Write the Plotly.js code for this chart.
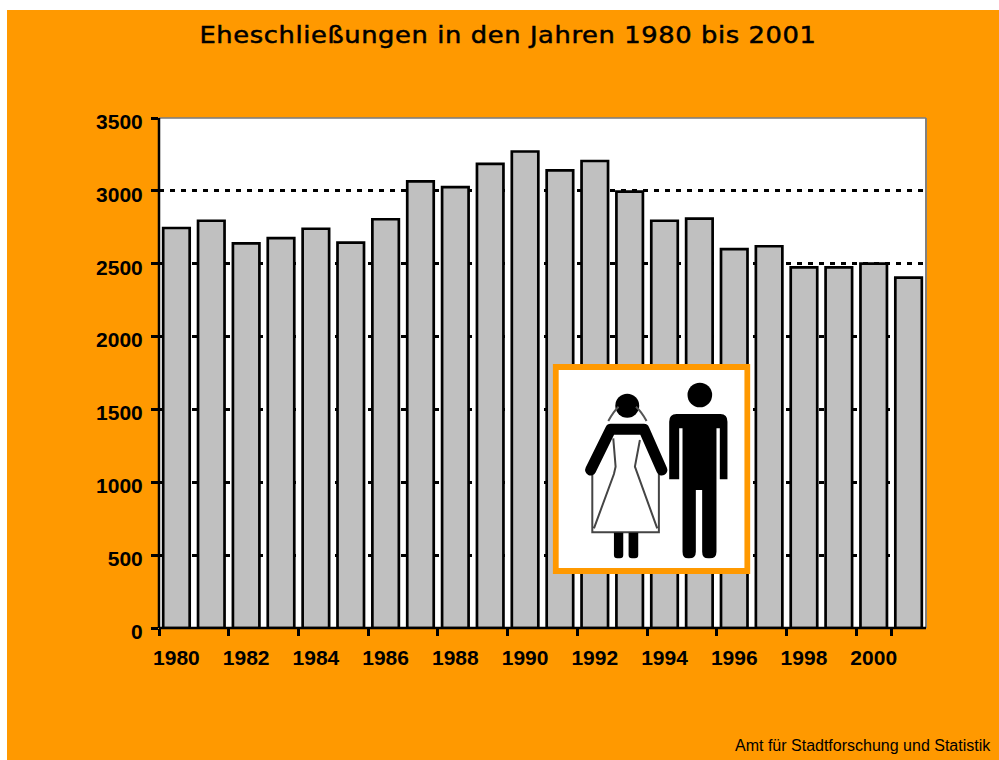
<!DOCTYPE html>
<html><head><meta charset="utf-8">
<script src="https://cdn.plot.ly/plotly-3.0.1.min.js"></script>
<style>html,body{margin:0;padding:0;background:#fff}#c{position:absolute;left:7px;top:10px;width:992px;height:750px}
.gtitle{letter-spacing:.55px;stroke:#000;stroke-width:.5px;transform-box:fill-box;transform-origin:center;scale:1.12 1}
.ytick text{translate:0 3.5px}
</style>
</head><body><div id="c"></div>
<script>
const years = ['1980','1981','1982','1983','1984','1985','1986','1987','1988','1989','1990','1991','1992','1993','1994','1995','1996','1997','1998','1999','2000','2001'];
const marriages = [2745,2795,2640,2675,2740,2645,2805,3065,3025,3185,3270,3140,3205,2995,2795,2810,2600,2620,2475,2475,2500,2405];
const xTickLabels = ['1980','1982','1984','1986','1988','1990','1992','1994','1996','1998','2000'];
const yTicks = [0,500,1000,1500,2000,2500,3000,3500];
const titleText = 'Eheschließungen in den Jahren 1980 bis 2001';
const sourceText = 'Amt für Stadtforschung und Statistik';

const icon = `<svg xmlns="http://www.w3.org/2000/svg" viewBox="38 42 594 630" width="594" height="630">
<defs><filter id="b" x="-5%" y="-5%" width="110%" height="110%"><feGaussianBlur stdDeviation="1.6"/></filter></defs>
<rect x="47" y="51" width="576" height="612" fill="#fff" stroke="#FF9900" stroke-width="18"/>
<g filter="url(#b)">
<circle cx="262" cy="167" r="36"/>
<path d="M205 213 Q220 185 236 170 M320 213 Q305 185 288 170" fill="none" stroke="#555" stroke-width="6"/>
<path d="M157 370 V547 H357 V370 M220 265 L227 350 L222 372 L162 535 M300 270 L285 350 L352 535" fill="#fff" stroke="#444" stroke-width="6"/>
<path d="M152 360 L212 238 H312 L366 360" fill="none" stroke="#000" stroke-width="33" stroke-linejoin="round" stroke-linecap="round"/>
<path d="M222 548 H250 V615 Q250 625 240 625 H232 Q222 625 222 615 Z M266 548 H295 V615 Q295 625 285 625 H276 Q266 625 266 615 Z"/>
<circle cx="480" cy="135" r="37"/>
<path d="M410 192 H542 Q563 192 563 215 V388 H540 V235 H530 V605 Q530 625 510 625 H505 Q487 625 487 605 V420 H468 V605 Q468 625 448 625 H445 Q428 625 428 605 V235 H418 V388 H388 V215 Q388 192 410 192 Z"/>
</g></svg>`;

const L = 158.5, R = 926.5, T = 118, B = 628, W = R - L, H = B - T;
const px = v => (v - L) / W, py = v => (B - v) / H;

Plotly.newPlot('c', [{
  type: 'bar', x: years, y: marriages, width: 0.76,
  marker: {color: '#C0C0C0', line: {color: '#000', width: 2.7}},
  hoverinfo: 'x+y'
}], {
  width: 992, height: 750,
  paper_bgcolor: '#FF9900', plot_bgcolor: '#FFFFFF',
  margin: {l: L - 7, r: 999 - R, t: T - 10, b: 760 - B, pad: 0},
  showlegend: false,
  title: {text: titleText, x: (508 - 7) / 992, xanchor: 'center', y: 1 - 25 / 750, yanchor: 'middle',
          font: {family: 'DejaVu Sans', size: 23, color: '#000'}},
  font: {family: 'Liberation Sans', color: '#000'},
  xaxis: {type: 'category', categoryorder: 'array', categoryarray: years, tickson: 'boundaries',
          tickmode: 'array', tickvals: xTickLabels, ticktext: xTickLabels,
          ticks: 'outside', ticklen: 7, tickwidth: 2.5, tickcolor: '#000',
          showline: false, showgrid: false, zeroline: false,
          tickangle: 0, tickfont: {family: 'Liberation Sans', size: 21, weight: 700, color: '#000'},
          ticklabelstandoff: 15, range: [-0.5, 21.5]},
  yaxis: {range: [0, 3500], tickmode: 'array', tickvals: yTicks,
          ticks: 'outside', ticklen: 7, tickwidth: 2.5, tickcolor: '#000',
          showline: false,
          showgrid: true, gridcolor: '#000', gridwidth: 2.5, griddash: '5px,6px', zeroline: false,
          tickfont: {family: 'Liberation Sans', size: 21, weight: 700, color: '#000'},
          ticklabelstandoff: 4},
  shapes: [
    {type: 'line', xref: 'paper', yref: 'paper', x0: 0, x1: 1, y0: 1, y1: 1, layer: 'between', opacity: 0.8, line: {color: '#808080', width: 2}},
    {type: 'line', xref: 'paper', yref: 'paper', x0: 1, x1: 1, y0: 0, y1: 1, layer: 'between', line: {color: '#808080', width: 2}},
    {type: 'line', xref: 'paper', yref: 'paper', x0: 0, x1: 0, y0: 0, y1: 1, layer: 'above', line: {color: '#000', width: 2.5}},
    {type: 'line', xref: 'paper', yref: 'paper', x0: 0, x1: 1, y0: 0, y1: 0, layer: 'above', line: {color: '#000', width: 2.5}}
  ],
  annotations: [{text: sourceText, xref: 'paper', yref: 'paper', x: px(994), y: py(745.5), xanchor: 'right', yanchor: 'middle',
                 showarrow: false, font: {family: 'Liberation Sans', size: 16, color: '#000'}}],
  images: [{source: 'data:image/svg+xml;charset=utf-8,' + encodeURIComponent(icon),
            xref: 'paper', yref: 'paper', x: px(552.7), y: py(364), sizex: 198 / W, sizey: 210 / H,
            xanchor: 'left', yanchor: 'top', sizing: 'stretch', layer: 'above'}]
}, {displayModeBar: false, responsive: false});
</script></body></html>
